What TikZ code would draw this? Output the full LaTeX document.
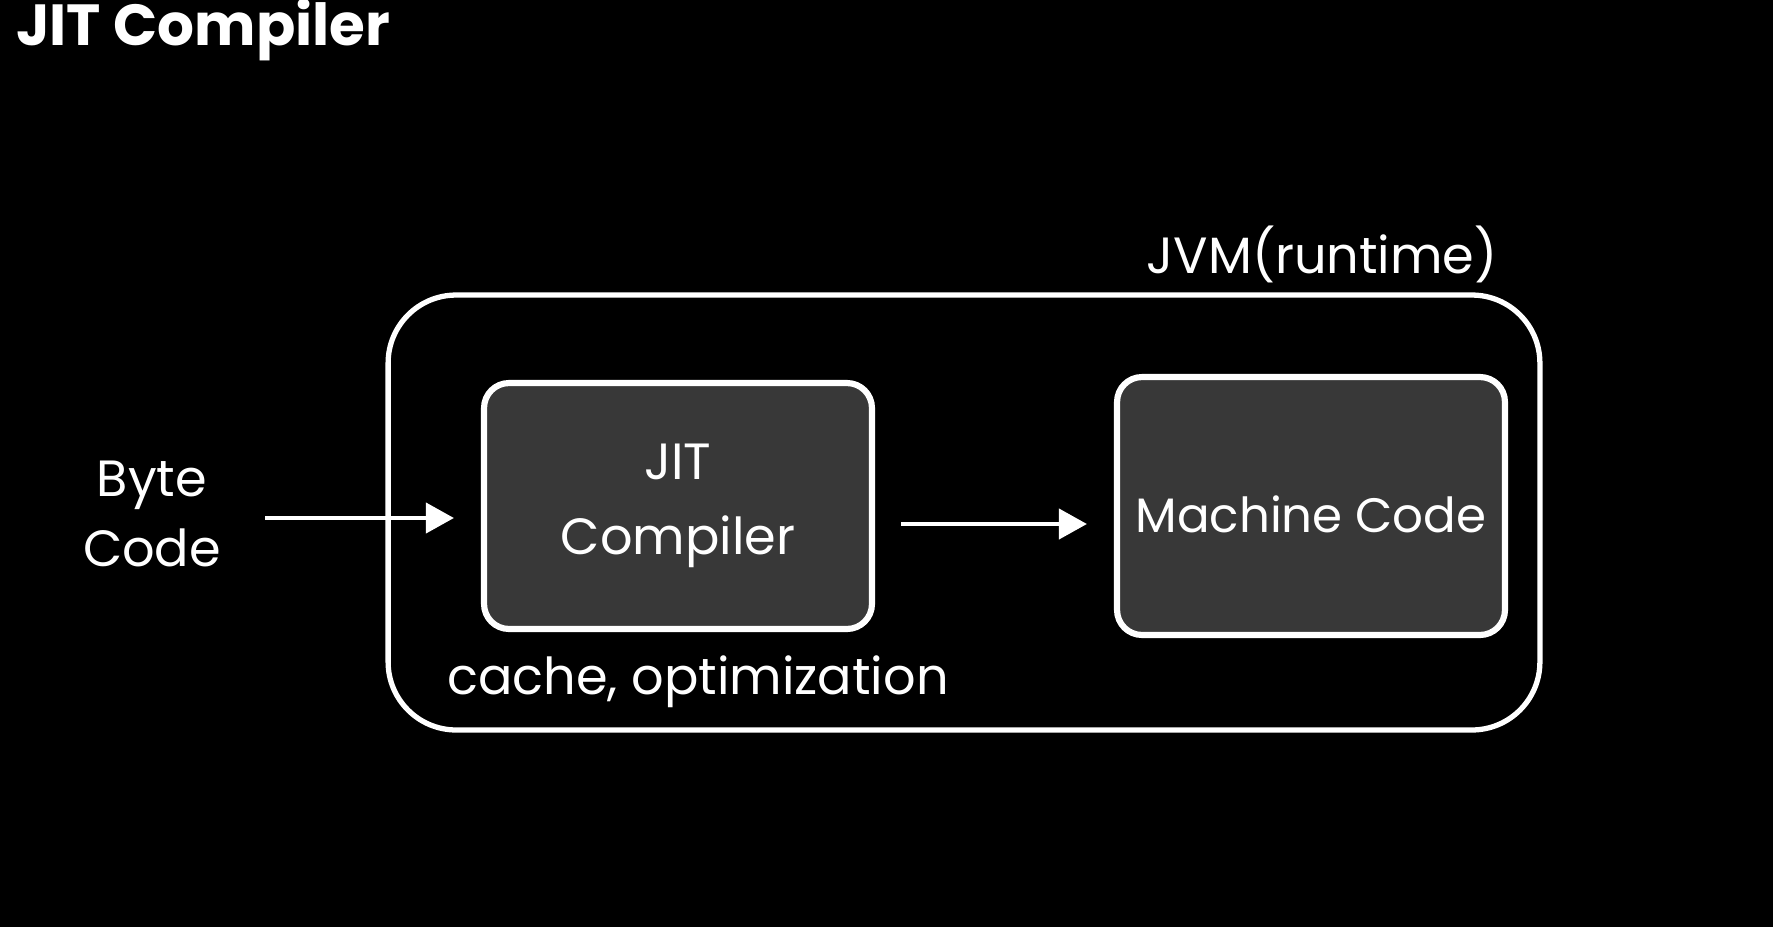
\documentclass[tikz,border=0pt]{standalone}
\usepackage{fontspec}
\setmainfont{Poppins}
\usetikzlibrary{arrows.meta,calc}

\definecolor{boxfill}{HTML}{383838}

\tikzset{
  stage/.style={draw=white, line width=3.5pt, fill=boxfill, rounded corners=0.5cm,
    minimum width=7.76cm, inner sep=0pt, text=white, align=center},
  flow/.style={draw=white, line width=2.7pt, -{Triangle[length=16pt, width=17pt]}},
  lbl/.style={text=white, font=\fontsize{29}{40}\selectfont, inner sep=0pt}
}

\begin{document}
\begin{tikzpicture}[x=0.02cm, y=-0.02cm]

  %% ---- Canvas ----
  \fill[black] (0,0) rectangle (1773,927);
  \useasboundingbox (0,0) rectangle (1773,927);

  %% ---- Title ----
  \node[text=white, anchor=base west, inner sep=0pt,
    font=\fontsize{33}{40}\selectfont\bfseries] (title) at (16,45) {JIT Compiler};

  %% ---- Runtime frame ----
  \node[draw=white, line width=3pt, rounded corners=1.36cm,
    minimum width=23.04cm, minimum height=8.7cm] (jvm) at (964,512.5) {};
  \node[lbl, anchor=base east] (jvmlbl) at (1498,273) {JVM(runtime)};

  %% ---- Stages ----
  \node[stage, minimum height=4.92cm, font=\fontsize{29}{43}\selectfont] (jit) at (678,506) {JIT\\Compiler};
  \node[stage, minimum height=5.16cm, text height=30pt, text depth=0.4pt,
    font=\fontsize{27.5}{36}\selectfont] (mc) at (1311,506) {Machine Code};

  %% ---- Input ----
  \node[lbl, align=center] (bc) at (152,514) {Byte\\Code};
  \coordinate (bcout) at (265,518);

  %% ---- Notes ----
  \node[lbl, anchor=base] (note) at (698,694) {cache, optimization};

  %% ---- Arrows ----
  \draw[flow, shorten >=27*0.02cm] (bcout) -- (jit.west |- bcout);
  \draw[flow, shorten <=26*0.02cm, shorten >=27*0.02cm]
    ($(jit.east)+(0,18)$) -- ($(mc.west)+(0,18)$);

\end{tikzpicture}
\end{document}
